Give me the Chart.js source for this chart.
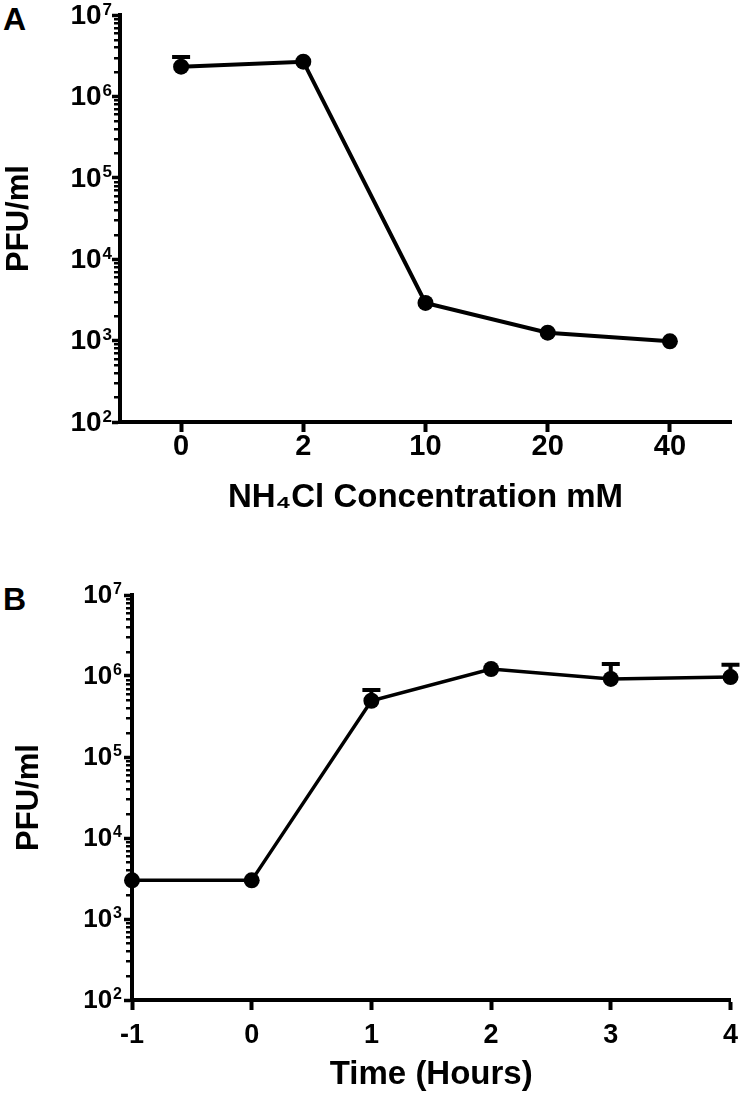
<!DOCTYPE html>
<html>
<head>
<meta charset="utf-8">
<script src="https://cdn.jsdelivr.net/npm/chart.js@4.4.0/dist/chart.umd.min.js"></script>
<style>
  body { margin: 0; background: #fff; width: 750px; height: 1103px; position: relative; overflow: hidden; }
  canvas { position: absolute; left: 0; }
  .letter { position: absolute; left: 3px; font: bold 32px/32px "Liberation Sans", Arial, sans-serif; color: #000; }
</style>
</head>
<body>
<div class="letter" style="top:3px">A</div>
<div class="letter" style="top:583px">B</div>
<canvas id="chartA" width="750" height="540" style="top:0"></canvas>
<canvas id="chartB" width="750" height="553" style="top:550px"></canvas>
<script>
// panel A: NH4Cl dose
const concLabels = ['0', '2', '10', '20', '40'];
const concPfu = [2.32e6, 2.67e6, 2.9e3, 1.25e3, 9.8e2];
const concPfuTop = [3.05e6, null, null, null, null];

// panel B: time course
const timeHours = [-1, 0, 1, 2, 3, 4];
const timePfu = [3.0e3, 3.0e3, 4.95e5, 1.22e6, 9.2e5, 9.7e5];
const timePfuTop = [null, null, 6.7e5, null, 1.41e6, 1.38e6];

const yDecades = [1e2, 1e3, 1e4, 1e5, 1e6, 1e7];
const FONT = '"Liberation Sans", Arial, sans-serif';

// minor log ticks, 10^n labels and the upper error bars
const logExtras = {
  id: 'logExtras',
  afterDraw(chart, args, opts) {
    const ctx = chart.ctx;
    const y = chart.scales.y;
    const axisX = chart.chartArea.left;
    ctx.save();
    ctx.strokeStyle = '#000';
    ctx.fillStyle = '#000';
    ctx.lineWidth = 2.5;
    yDecades.slice(0, -1).forEach(dec => {
      for (let m = 2; m <= 9; m++) {
        const py = Math.round(y.getPixelForValue(m * dec)) + 0.25;
        ctx.beginPath();
        ctx.moveTo(axisX, py);
        ctx.lineTo(axisX - 6, py);
        ctx.stroke();
      }
    });
    ctx.textAlign = 'right';
    ctx.textBaseline = 'middle';
    yDecades.forEach(v => {
      const py = y.getPixelForValue(v);
      const exp = String(Math.round(Math.log10(v)));
      ctx.font = 'bold ' + opts.supSize + 'px ' + FONT;
      const w = ctx.measureText(exp).width;
      ctx.fillText(exp, axisX - opts.gap, py - 5);
      ctx.font = 'bold ' + opts.labelSize + 'px ' + FONT;
      ctx.fillText('10', axisX - opts.gap - w - 1, py + 1);
    });
    const meta = chart.getDatasetMeta(0);
    ctx.lineWidth = 4;
    opts.tops.forEach((top, i) => {
      if (top == null) return;
      const pt = meta.data[i];
      const ty = y.getPixelForValue(top);
      ctx.beginPath();
      ctx.moveTo(pt.x, pt.y);
      ctx.lineTo(pt.x, ty);
      ctx.moveTo(pt.x - 9, ty);
      ctx.lineTo(pt.x + 9, ty);
      ctx.stroke();
    });
    ctx.restore();
  }
};

function yScale(width, titlePad) {
  return {
    type: 'logarithmic',
    min: 1e2,
    max: 1e7,
    afterBuildTicks: scale => { scale.ticks = yDecades.map(v => ({ value: v })); },
    afterFit: scale => { scale.width = width; },
    ticks: { display: false },
    grid: { drawOnChartArea: false, color: '#000', tickLength: 8, tickWidth: 3.5 },
    border: { color: '#000', width: 4 },
    title: {
      display: true, text: 'PFU/ml', color: '#000',
      font: { family: FONT, size: 31, weight: 'bold', lineHeight: 1 },
      padding: { top: titlePad, bottom: 0 }
    }
  };
}

function lineStyle(w) {
  return {
    borderColor: '#000',
    borderWidth: w,
    pointRadius: 8,
    pointHoverRadius: 8,
    pointBackgroundColor: '#000',
    pointBorderWidth: 0,
    tension: 0,
    clip: false
  };
}

new Chart(document.getElementById('chartA'), {
  type: 'line',
  data: {
    labels: concLabels,
    datasets: [Object.assign({ data: concPfu }, lineStyle(4))]
  },
  options: {
    responsive: false,
    animation: false,
    layout: { padding: { left: 0, top: 15, right: 19, bottom: 0 } },
    scales: {
      x: {
        type: 'category',
        offset: true,
        afterFit: scale => { scale.height = 118; },
        grid: { offset: false, drawOnChartArea: false, color: '#000', tickLength: 10, tickWidth: 4 },
        border: { color: '#000', width: 4 },
        ticks: { color: '#000', padding: 0, font: { family: FONT, size: 29, weight: 'bold', lineHeight: 1 } },
        title: {
          display: true, text: 'NH\u2084Cl Concentration mM', color: '#000',
          font: { family: FONT, size: 33, weight: 'bold', lineHeight: 1 },
          padding: { top: 0, bottom: 26 }
        }
      },
      y: yScale(120, 4)
    },
    plugins: {
      legend: { display: false },
      tooltip: { enabled: false },
      logExtras: { tops: concPfuTop, gap: 8, labelSize: 28, supSize: 17 }
    }
  },
  plugins: [logExtras]
});

new Chart(document.getElementById('chartB'), {
  type: 'line',
  data: {
    datasets: [Object.assign({ data: timeHours.map((h, i) => ({ x: h, y: timePfu[i] })) }, lineStyle(3.5))]
  },
  options: {
    responsive: false,
    animation: false,
    layout: { padding: { left: 0, top: 45, right: 9, bottom: 0 } },
    scales: {
      x: {
        type: 'linear',
        min: -1,
        max: 4,
        afterBuildTicks: scale => { scale.ticks = timeHours.map(v => ({ value: v })); },
        afterFit: scale => { scale.height = 103; },
        grid: { drawOnChartArea: false, color: '#000', tickLength: 10, tickWidth: 4 },
        border: { color: '#000', width: 4 },
        ticks: { color: '#000', padding: 12, font: { family: FONT, size: 27, weight: 'bold', lineHeight: 1 } },
        title: {
          display: true, text: 'Time (Hours)', color: '#000',
          font: { family: FONT, size: 33, weight: 'bold', lineHeight: 1 },
          padding: { top: 0, bottom: 12 }
        }
      },
      y: yScale(132, 14)
    },
    plugins: {
      legend: { display: false },
      tooltip: { enabled: false },
      logExtras: { tops: timePfuTop, gap: 10, labelSize: 26, supSize: 16 }
    }
  },
  plugins: [logExtras]
});
</script>
</body>
</html>
